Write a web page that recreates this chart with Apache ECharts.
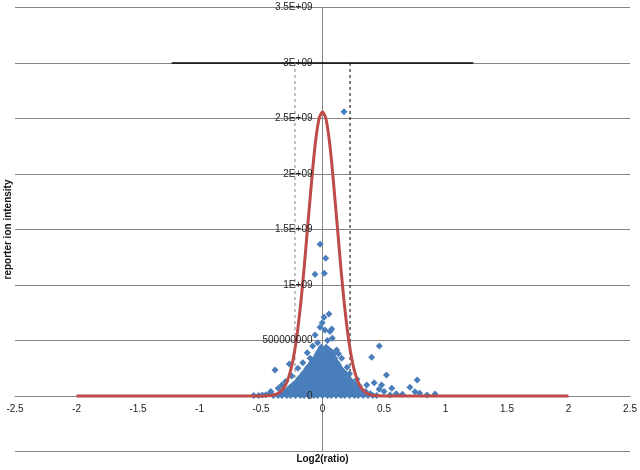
<!DOCTYPE html>
<html>
<head>
<meta charset="utf-8">
<script src="https://cdn.jsdelivr.net/npm/echarts@6/dist/echarts.min.js"></script>
<style>
  html, body { margin: 0; padding: 0; background: #fff; }
  #chart { width: 640px; height: 470px; }
</style>
</head>
<body>
<div id="chart"></div>
<script>
// y values are in units of 1E+09
const yTickValues = [0, 0.5, 1, 1.5, 2, 2.5, 3, 3.5];
const yTickLabels = ['0', '500000000', '1E+09', '1.5E+09', '2E+09', '2.5E+09', '3E+09', '3.5E+09'];

// fitted curve (red)
const curveX = [-2, -1, -0.6, -0.5, -0.45, -0.4, -0.375, -0.35, -0.325, -0.3, -0.275, -0.25, -0.225, -0.2, -0.175, -0.15, -0.125, -0.1, -0.075, -0.05, -0.025, 0,
  0.025, 0.05, 0.075, 0.1, 0.125, 0.15, 0.175, 0.2, 0.225, 0.25, 0.275, 0.3, 0.325, 0.35, 0.375, 0.4, 0.45, 0.5, 0.6, 1, 2];
const curveY = [0, 0, 0, 0.0003, 0.002, 0.008, 0.016, 0.032, 0.058, 0.10, 0.17, 0.27, 0.417, 0.61, 0.855, 1.146, 1.47, 1.79, 2.10, 2.35, 2.51, 2.56,
  2.51, 2.35, 2.10, 1.79, 1.47, 1.146, 0.855, 0.61, 0.417, 0.27, 0.17, 0.10, 0.058, 0.032, 0.016, 0.008, 0.002, 0.0003, 0, 0, 0];

// dense part of the cloud, one row of x values per intensity level
const denseRowY = [0.005, 0.02, 0.04, 0.06, 0.08, 0.10, 0.12, 0.14, 0.16, 0.18, 0.20, 0.22, 0.24, 0.26, 0.28, 0.30, 0.32, 0.34, 0.36, 0.38, 0.40, 0.42, 0.44];
const denseRowX = [
  [-0.40, -0.36, -0.33, -0.29, -0.26, -0.22, -0.18, -0.15, -0.11, -0.07, -0.04, 0.0, 0.04, 0.07, 0.11, 0.15, 0.18, 0.22, 0.26, 0.29, 0.33, 0.37, 0.41, 0.44],
  [-0.34, -0.31, -0.27, -0.24, -0.20, -0.16, -0.13, -0.09, -0.05, -0.02, 0.02, 0.05, 0.09, 0.13, 0.16, 0.20, 0.24, 0.27, 0.31, 0.35, 0.39],
  [-0.31, -0.27, -0.24, -0.20, -0.16, -0.13, -0.09, -0.05, -0.02, 0.02, 0.06, 0.09, 0.13, 0.17, 0.20, 0.24, 0.28, 0.31, 0.35],
  [-0.28, -0.24, -0.21, -0.17, -0.13, -0.10, -0.06, -0.02, 0.01, 0.05, 0.09, 0.12, 0.16, 0.20, 0.23, 0.27, 0.30],
  [-0.26, -0.22, -0.19, -0.15, -0.11, -0.08, -0.04, 0.0, 0.03, 0.07, 0.11, 0.14, 0.18, 0.22, 0.25, 0.28],
  [-0.24, -0.20, -0.16, -0.13, -0.09, -0.05, -0.01, 0.02, 0.06, 0.10, 0.13, 0.17, 0.21, 0.24, 0.27],
  [-0.22, -0.18, -0.14, -0.11, -0.07, -0.03, 0.01, 0.04, 0.08, 0.12, 0.15, 0.19, 0.23, 0.25],
  [-0.20, -0.17, -0.13, -0.09, -0.06, -0.02, 0.02, 0.05, 0.09, 0.13, 0.16, 0.20, 0.23],
  [-0.19, -0.15, -0.11, -0.08, -0.04, 0.0, 0.03, 0.07, 0.11, 0.14, 0.18, 0.21],
  [-0.17, -0.13, -0.10, -0.06, -0.02, 0.01, 0.05, 0.09, 0.12, 0.16, 0.19],
  [-0.16, -0.12, -0.09, -0.05, -0.02, 0.02, 0.06, 0.09, 0.13, 0.17, 0.19],
  [-0.14, -0.11, -0.07, -0.03, 0.0, 0.04, 0.07, 0.11, 0.14, 0.17],
  [-0.13, -0.09, -0.06, -0.02, 0.01, 0.05, 0.08, 0.12, 0.15],
  [-0.12, -0.08, -0.04, -0.01, 0.03, 0.06, 0.10, 0.14],
  [-0.10, -0.07, -0.03, 0.0, 0.04, 0.07, 0.11, 0.13],
  [-0.09, -0.05, -0.02, 0.01, 0.05, 0.08, 0.12],
  [-0.08, -0.04, -0.01, 0.03, 0.06, 0.10],
  [-0.06, -0.03, 0.0, 0.04, 0.07, 0.10],
  [-0.05, -0.02, 0.02, 0.05, 0.08],
  [-0.04, 0.0, 0.03, 0.06, 0.09],
  [-0.03, 0.01, 0.04, 0.07],
  [-0.02, 0.02, 0.05],
  [-0.01, 0.03]
];

// scattered points around the cloud
const sparseX = [-0.56, -0.52, -0.49, -0.46, -0.43, -0.42, -0.386, -0.36, -0.33, -0.30, -0.27, -0.25, -0.20, -0.16, -0.124, -0.10, -0.08, -0.06, -0.04,
  -0.02, -0.002, 0.012, 0.053, 0.02, 0.061, 0.075, 0.08, 0.04, 0.115, 0.13, 0.156, 0.20, 0.22, 0.28, 0.30, 0.36, 0.40, 0.42, 0.462, 0.46, 0.48,
  0.50, 0.52, 0.55, 0.563, 0.60, 0.65, 0.711, 0.752, 0.77, 0.79, 0.85, 0.915,
  -0.02, 0.026, -0.061, 0.015, 0.175];
const sparseY = [0.005, 0.005, 0.01, 0.012, 0.02, 0.04, 0.234, 0.069, 0.10, 0.13, 0.288, 0.18, 0.25, 0.30, 0.39, 0.34, 0.45, 0.55, 0.48,
  0.619, 0.66, 0.709, 0.739, 0.595, 0.58, 0.604, 0.52, 0.50, 0.414, 0.38, 0.34, 0.26, 0.20, 0.15, 0.09, 0.10, 0.349, 0.12, 0.45, 0.06, 0.10,
  0.04, 0.19, 0.01, 0.069, 0.02, 0.015, 0.078, 0.039, 0.144, 0.024, 0.01, 0.018,
  1.367, 1.24, 1.096, 1.105, 2.56];

// reference lines
const topLineX = [-1.226, 1.226];
const topLineY = 3;
const leftCutX = -0.224;
const rightCutX = 0.224;

const chart = echarts.init(document.getElementById('chart'));

let pts = [];
denseRowY.forEach((y, i) => {
  denseRowX[i].forEach(x => pts.push([x, y]));
});
sparseX.forEach((x, i) => pts.push([x, sparseY[i]]));

const font = 'Liberation Sans';
const yLabelFmt = v => {
  let i = yTickValues.findIndex(t => Math.abs(t - v) < 1e-6);
  return i < 0 ? '' : yTickLabels[i];
};

const option = {
  animation: false,
  grid: { left: 15, right: 10, top: 7.5, bottom: 18.5, containLabel: false, outerBoundsMode: 'none' },
  xAxis: {
    type: 'value',
    min: -2.5,
    max: 2.5,
    interval: 0.5,
    position: 'bottom',
    offset: -55.5, // axis crosses at y = 0
    axisLine: { onZero: false, lineStyle: { color: '#868686', width: 1 } },
    axisTick: { show: false },
    splitLine: { show: false },
    axisLabel: { margin: 8, fontSize: 10, color: '#222', fontFamily: font },
    name: 'Log2(ratio)',
    nameLocation: 'middle',
    nameGap: 58,
    nameTextStyle: { fontSize: 10, fontWeight: 'bold', color: '#111', fontFamily: font }
  },
  yAxis: [
    {
      type: 'value',
      min: -0.5,
      max: 3.5,
      interval: 0.5,
      position: 'left',
      offset: -307.5, // axis crosses at x = 0
      axisLine: { onZero: false, lineStyle: { color: '#868686', width: 1 } },
      axisTick: { show: false },
      splitLine: { show: true, lineStyle: { color: '#8c8282', width: 1 } },
      axisLabel: { show: false },
      name: 'reporter ion intensity',
      nameLocation: 'middle',
      nameRotate: 90,
      nameGap: 309,
      nameTextStyle: { fontSize: 10, fontWeight: 'bold', color: '#111', fontFamily: font }
    },
    {
      // labels only, drawn above the points
      type: 'value',
      min: -0.5,
      max: 3.5,
      interval: 0.5,
      position: 'left',
      offset: -307.5,
      z: 10,
      axisLine: { show: false, onZero: false },
      axisTick: { show: false },
      splitLine: { show: false },
      axisLabel: { margin: 10, fontSize: 10, color: '#222', fontFamily: font, formatter: yLabelFmt }
    }
  ],
  series: [
    {
      type: 'line',
      data: topLineX.map(x => [x, topLineY]),
      symbol: 'none',
      lineStyle: { color: '#000', width: 1.5 },
      z: 1
    },
    {
      type: 'line',
      data: [[leftCutX, topLineY], [leftCutX, 0]],
      symbol: 'none',
      lineStyle: { color: '#808080', width: 1, type: [3, 3] },
      z: 1
    },
    {
      type: 'line',
      data: [[rightCutX, topLineY], [rightCutX, 0]],
      symbol: 'none',
      lineStyle: { color: '#000', width: 1, type: [3, 3] },
      z: 1
    },
    {
      type: 'scatter',
      data: pts,
      symbol: 'diamond',
      symbolSize: 7,
      itemStyle: { color: '#4a7ebb', opacity: 1 },
      z: 2
    },
    {
      type: 'line',
      data: curveX.map((x, i) => [x, curveY[i]]),
      symbol: 'none',
      smooth: 0.2,
      lineStyle: { color: '#be4b48', width: 3 },
      z: 3
    }
  ]
};

chart.setOption(option);
</script>
</body>
</html>
